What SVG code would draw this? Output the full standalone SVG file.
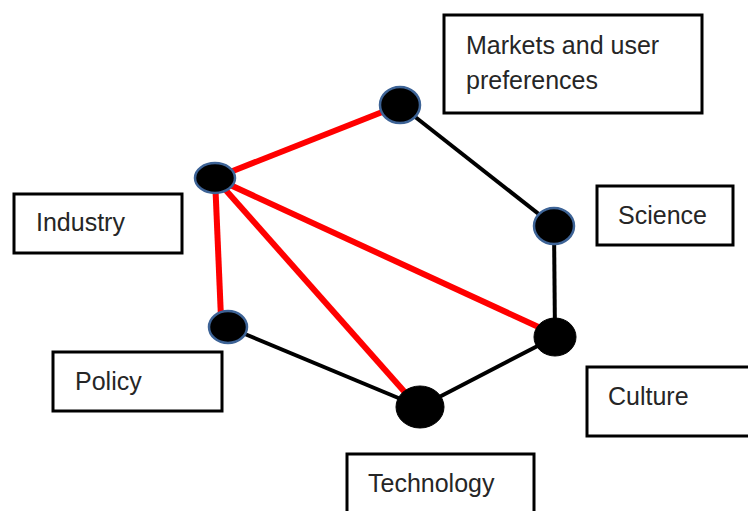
<svg xmlns="http://www.w3.org/2000/svg" width="748" height="511" viewBox="0 0 748 511">
<style>
.box{fill:#fff;stroke:#000;stroke-width:3}
.lbl{font-family:"Liberation Sans",Arial,sans-serif;font-size:25px;fill:#262626}
.red{stroke:#f00;stroke-width:6;stroke-linecap:butt}
.blk{stroke:#000;stroke-width:4}
.nb{fill:#000;stroke:#3d6396;stroke-width:2.5}
.nk{fill:#000;stroke:#000;stroke-width:1}
</style>
<rect width="748" height="511" fill="#fff"/>
<g id="connectors">
<line class="blk" x1="400" y1="105" x2="554" y2="226"/>
<line class="blk" x1="554" y1="226" x2="555" y2="337"/>
<line class="blk" x1="555" y1="337" x2="420" y2="407"/>
<line class="blk" x1="420" y1="407" x2="228" y2="327"/>
<line class="red" x1="215" y1="178" x2="400" y2="105"/>
<line class="red" x1="215" y1="178" x2="221" y2="318"/>
<line class="red" x1="215" y1="178" x2="410" y2="398"/>
<line class="red" x1="215" y1="178" x2="545" y2="330"/>
</g>
<g id="markets">
<rect class="box" x="444" y="15" width="258" height="98"/>
<text class="lbl" x="466" y="54">Markets and user</text>
<text class="lbl" x="466" y="89">preferences</text>
<ellipse class="nb" cx="400" cy="105" rx="20" ry="18"/>
</g>
<g id="science">
<rect class="box" x="597" y="186" width="136" height="59"/>
<text class="lbl" x="618" y="224">Science</text>
<ellipse class="nb" cx="554" cy="226" rx="20" ry="18"/>
</g>
<g id="industry">
<rect class="box" x="14" y="194" width="168" height="59"/>
<text class="lbl" x="36" y="231">Industry</text>
<ellipse class="nb" cx="215" cy="178" rx="20" ry="15"/>
</g>
<g id="policy">
<rect class="box" x="53" y="352" width="169" height="59"/>
<text class="lbl" x="75" y="390">Policy</text>
<ellipse class="nb" cx="228" cy="327" rx="19" ry="16"/>
</g>
<g id="technology">
<rect class="box" x="347" y="454" width="187" height="70"/>
<text class="lbl" x="368" y="492">Technology</text>
<ellipse class="nk" cx="420" cy="407" rx="24" ry="21"/>
</g>
<g id="culture">
<rect class="box" x="587" y="367" width="170" height="69"/>
<text class="lbl" x="608" y="405">Culture</text>
<ellipse class="nk" cx="555" cy="337" rx="21" ry="19"/>
</g>
</svg>
